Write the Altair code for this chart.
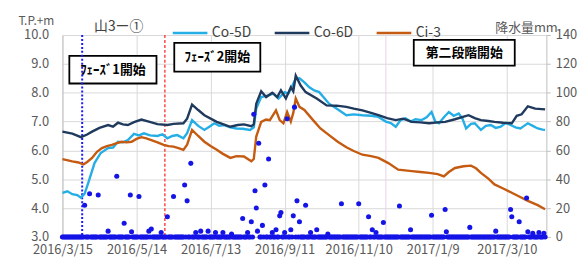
import altair as alt
import pandas as pd

BASE = pd.Timestamp("2016-03-15")

# ---- groundwater level series (day offset from 2016/3/15, T.P.+m) ----
co5d_day = [0, 4, 8, 12, 15, 18, 21, 26, 31, 37, 41, 45, 49, 53, 58, 62, 66, 71, 77, 81, 85, 89, 93, 98,
            101, 105, 110, 115, 119, 123, 127, 131, 136, 141, 146, 152, 155, 157, 161, 166, 171, 175, 180,
            183, 189, 192, 196, 200, 204, 208, 216, 222, 230, 236, 243, 250, 256, 262, 266, 270, 274, 278,
            282, 286, 291, 295, 299, 302, 305, 309, 313, 317, 321, 324, 327, 331, 334, 337, 339, 343, 347,
            351, 355, 359, 363, 367, 371, 374, 377, 381, 385, 389, 391]
co5d_val = [4.53, 4.58, 4.48, 4.45, 4.36, 4.50, 4.88, 5.56, 5.91, 6.08, 6.10, 6.30, 6.28, 6.36, 6.57, 6.52,
            6.59, 6.52, 6.50, 6.56, 6.42, 6.50, 6.53, 6.42, 6.60, 7.05, 6.85, 6.71, 6.82, 6.94, 6.85, 6.88,
            6.80, 6.76, 6.75, 6.71, 6.80, 7.45, 7.85, 7.90, 7.97, 7.80, 8.02, 7.97, 8.48, 8.50, 8.36, 8.19,
            8.08, 8.02, 7.62, 7.45, 7.22, 7.25, 7.22, 7.20, 7.16, 7.00, 6.95, 6.82, 7.05, 7.11, 7.00, 7.08,
            7.05, 7.15, 7.33, 7.00, 6.94, 7.15, 7.33, 7.20, 7.28, 7.10, 6.76, 6.92, 6.94, 6.80, 6.71, 6.85,
            6.88, 6.78, 6.82, 6.95, 6.88, 6.80, 6.76, 6.85, 6.94, 6.85, 6.76, 6.72, 6.71]

co6d_day = [0, 8, 15, 20, 24, 30, 37, 41, 45, 49, 53, 58, 64, 70, 77, 85, 90, 98, 101, 105, 110, 115, 125,
            136, 142, 147, 153, 155, 157, 161, 165, 170, 174, 177, 181, 185, 187, 189, 193, 197, 206, 214,
            222, 230, 236, 243, 250, 256, 263, 270, 276, 283, 290, 297, 304, 310, 318, 329, 334, 339, 345,
            350, 357, 364, 368, 372, 377, 383, 391]
co6d_val = [6.65, 6.58, 6.46, 6.55, 6.65, 6.78, 6.88, 6.82, 6.96, 6.90, 6.88, 6.98, 7.07, 7.00, 6.91, 6.88,
            6.92, 6.94, 7.10, 7.59, 7.40, 7.22, 6.99, 6.82, 6.88, 6.90, 6.84, 6.90, 7.62, 8.05, 7.85, 8.00,
            7.85, 8.08, 7.80, 8.19, 8.05, 8.59, 8.25, 8.02, 7.80, 7.56, 7.55, 7.51, 7.45, 7.39, 7.30, 7.22,
            7.12, 7.05, 7.10, 6.99, 6.97, 6.94, 6.97, 6.99, 7.08, 7.22, 7.12, 7.05, 7.02, 6.99, 6.96, 6.94,
            7.20, 7.25, 7.53, 7.45, 7.42]

ci3_day = [0, 8, 13, 17, 20, 24, 28, 32, 36, 40, 44, 48, 52, 56, 60, 64, 68, 72, 77, 82, 86, 90, 94, 98,
           101, 105, 110, 115, 120, 125, 130, 136, 141, 147, 153, 155, 157, 161, 165, 168, 173, 176, 179,
           182, 185, 187, 189, 192, 196, 203, 209, 216, 223, 230, 236, 243, 250, 256, 264, 272, 283, 290,
           297, 304, 309, 313, 318, 325, 331, 335, 339, 345, 350, 357, 364, 370, 377, 385, 391]
ci3_val = [5.70, 5.62, 5.58, 5.51, 5.60, 5.74, 5.95, 6.08, 6.15, 6.19, 6.25, 6.30, 6.28, 6.30, 6.40, 6.46,
           6.42, 6.36, 6.28, 6.19, 6.15, 6.13, 6.08, 6.02, 6.20, 6.71, 6.50, 6.30, 6.15, 6.02, 5.88, 5.74,
           5.80, 5.79, 5.62, 5.70, 6.48, 6.99, 7.07, 7.05, 7.39, 7.05, 6.94, 7.33, 7.00, 7.30, 7.80, 7.51,
           7.40, 7.05, 6.76, 6.53, 6.30, 6.11, 5.98, 5.85, 5.80, 5.74, 5.56, 5.33, 5.28, 5.25, 5.22, 5.18,
           5.10, 5.25, 5.39, 5.45, 5.47, 5.38, 5.22, 5.02, 4.82, 4.68, 4.53, 4.40, 4.25, 4.10, 3.96]

# ---- daily rainfall (mm): days with rain; all other days 0 ----
rain_day = [18, 22, 29, 37, 44, 50, 55, 56, 62, 70, 72, 80, 85, 90, 99, 101, 104, 108, 112, 118, 124, 130,
            137, 146, 150, 153, 155, 156, 157, 158, 159, 162, 164, 167, 170, 173, 176, 177, 180, 182, 185,
            187, 188, 190, 192, 197, 201, 206, 215, 226, 240, 248, 251, 254, 260, 273, 282, 299, 310, 311,
            330, 351, 363, 364, 370, 376, 377, 381, 386, 390]
rain_mm = [22, 30, 29, 4, 42, 9.5, 29, 3.5, 28, 4, 5.5, 3, 14, 28, 36, 25, 51, 3, 4, 4, 3, 3,
           2, 12.8, 3, 10.5, 85, 32, 20, 4, 65, 8, 36, 54, 3, 5, 14.6, 17, 3, 82, 5,
           14.6, 90, 25, 10.5, 22, 3, 5, 2, 23, 23, 14, 5, 3, 10, 21.5, 5, 15, 19, 3.5,
           6.6, 4, 19, 14, 10.5, 27, 3.5, 2.5, 3, 2.5]
n_days = 392

series_names = ["Co-5D", "Co-6D", "Ci-3"]
series_colors = ["#25aee6", "#1f3a5c", "#c55a11"]

tick_days = [0, 60, 120, 180, 240, 300, 360]

# annotation boxes: label, start day, end day, bottom value, top value
box_label = ["ﾌｪｰｽﾞ1開始", "ﾌｪｰｽﾞ2開始", "第二段階開始"]
box_d1 = [5.6, 90.6, 284.6]
box_d2 = [76.2, 160.3, 366.4]
box_v1 = [8.32, 8.73, 8.94]
box_v2 = [9.28, 9.73, 9.83]

phase1_day = 16
phase2_day = 83
stage2_day = 262


def dates(days):
    return [(BASE + pd.Timedelta(days=float(d))).strftime("%Y-%m-%dT%H:%M:%S") + "Z" for d in days]


rows = []
for name, dd, vv in [("Co-5D", co5d_day, co5d_val), ("Co-6D", co6d_day, co6d_val), ("Ci-3", ci3_day, ci3_val)]:
    for d, v in zip(dates(dd), vv):
        rows.append({"series": name, "date": d, "value": v})
lines_df = pd.DataFrame(rows)

rain_lookup = dict(zip(rain_day, rain_mm))
all_days = list(range(n_days))
rain_df = pd.DataFrame({"date": dates(all_days), "mm": [rain_lookup.get(d, 0) for d in all_days]})

box_df = pd.DataFrame({
    "label": box_label,
    "date": dates(box_d1),
    "date2": dates(box_d2),
    "value": box_v1,
    "value2": box_v2,
    "cdate": dates([(a + b) / 2 for a, b in zip(box_d1, box_d2)]),
    "cvalue": [(a + b) / 2 for a, b in zip(box_v1, box_v2)],
})

FONT = "Noto Sans CJK JP"
GRID = "#d9d9d9"
AXC = "#bfbfbf"
LAB = "#595959"


def dt(day):
    t = BASE + pd.Timedelta(days=day)
    return alt.DateTime(year=t.year, month=t.month, date=t.day, utc=True)


x_scale = alt.Scale(type="utc", domain=[dt(0), dt(n_days)])
x_axis = alt.Axis(values=[dt(d) for d in tick_days], format="%Y/%-m/%-d", title=None,
                  grid=True, gridColor=GRID, ticks=False, domainColor=AXC, labelColor=LAB,
                  labelFontSize=13, labelFont=FONT, labelPadding=7, labelOverlap=False,
                  labelFlush=False, labelBound=False)

y_scale = alt.Scale(domain=[3, 10], nice=False, zero=False)
y_axis = alt.Axis(values=[3, 4, 5, 6, 7, 8, 9, 10], format=".1f", title="T.P.+m", titleAngle=0,
                  titleX=-45, titleY=-15, titleAlign="left", titleBaseline="middle",
                  titleFontSize=12, titleFontWeight="normal", titleColor=LAB, titleFont=FONT,
                  grid=True, gridColor=GRID, ticks=False, domainColor=AXC, labelColor=LAB,
                  labelFontSize=13, labelFont=FONT, labelPadding=14, labelFlush=False)

X = alt.X("date:T", scale=x_scale, axis=x_axis)
Y = alt.Y("value:Q", scale=y_scale, axis=y_axis)

boxes = alt.Chart(box_df).mark_rect(fill="white", stroke="black", strokeWidth=1.8).encode(
    x=X, x2="date2:T", y=Y, y2="value2:Q")
box_text = alt.Chart(box_df).mark_text(font=FONT, fontSize=13, fontWeight="bold", color="black").encode(
    x=alt.X("cdate:T", scale=x_scale, axis=x_axis),
    y=alt.Y("cvalue:Q", scale=y_scale, axis=y_axis),
    text="label:N")

rule1 = alt.Chart(pd.DataFrame({"date": dates([phase1_day])})).mark_rule(
    color="#1a1aff", strokeWidth=2, strokeDash=[2, 2]).encode(x=X)
rule2 = alt.Chart(pd.DataFrame({"date": dates([phase2_day])})).mark_rule(
    color="#ff1a1a", strokeWidth=1.2, strokeDash=[3, 2]).encode(x=X)
rule3 = alt.Chart(pd.DataFrame({"date": dates([stage2_day])})).mark_rule(
    color="#ead0ea", strokeWidth=1).encode(x=X)

lines = alt.Chart(lines_df).mark_line(strokeWidth=2.4).encode(
    x=X, y=Y,
    color=alt.Color("series:N", sort=series_names,
                    scale=alt.Scale(domain=series_names, range=series_colors),
                    legend=alt.Legend(orient="none", legendX=32, legendY=-21, direction="horizontal",
                                      title="山3ー①", titleOrient="left", titlePadding=28,
                                      titleFontSize=14, titleFontWeight="normal", titleColor="#404040",
                                      titleFont=FONT, labelFont=FONT, labelFontSize=14,
                                      labelColor="#404040", symbolType="stroke", symbolSize=1225,
                                      symbolStrokeWidth=2.5, columnPadding=18, labelOffset=3,
                                      padding=0)),
    order=alt.Order("date:T"))

left = alt.layer(rule3, boxes, box_text, rule1, rule2, lines)

rain = alt.Chart(rain_df).mark_circle(size=26, color="#1414e6", opacity=1).encode(
    x=X,
    y=alt.Y("mm:Q", scale=alt.Scale(domain=[0, 140], nice=False),
            axis=alt.Axis(orient="right", values=[0, 20, 40, 60, 80, 100, 120, 140], title="降水量mm",
                          titleAngle=0, titleX=11, titleY=-8, titleAlign="right", titleBaseline="middle",
                          titleFontSize=13, titleFontWeight="normal", titleColor=LAB, titleFont=FONT,
                          grid=False, tickSize=4, tickColor=AXC, domainColor=AXC, labelColor=LAB,
                          labelFontSize=13, labelFont=FONT, labelPadding=5, labelFlush=False)))

chart = alt.layer(left, rain).resolve_scale(y="independent").properties(
    width=489, height=204,
    autosize=alt.AutoSizeParams(type="none"),
    padding={"left": 55, "top": 26, "right": 34, "bottom": 21},
).configure_view(stroke=None)

chart.save("out.html", embed_options={"renderer": "svg", "actions": False})
